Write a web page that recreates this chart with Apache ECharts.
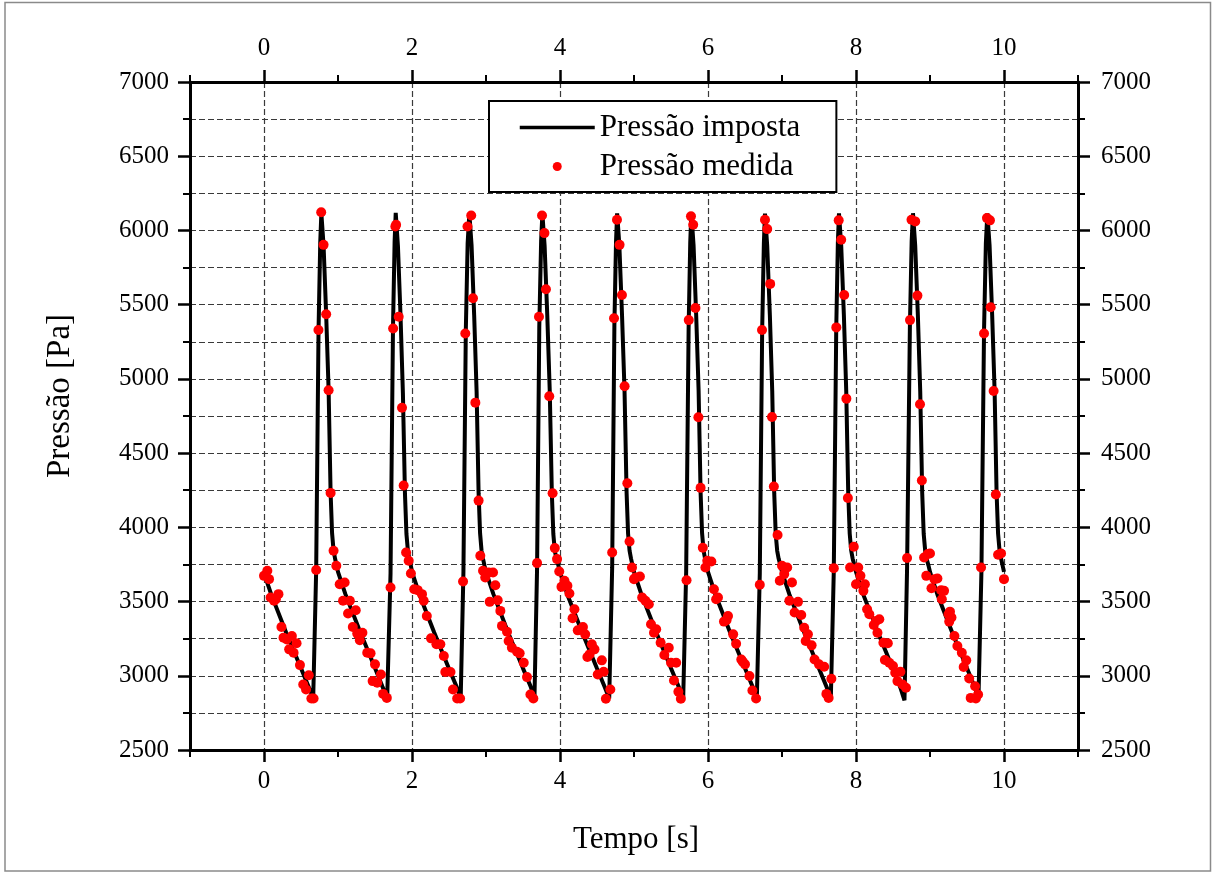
<!DOCTYPE html>
<html>
<head>
<meta charset="utf-8">
<script src="https://cdn.jsdelivr.net/npm/echarts@6/dist/echarts.min.js"></script>
<style>
html,body{margin:0;padding:0;background:#fff;}
#chart{width:1212px;height:872px;}
</style>
</head>
<body>
<div id="chart"></div>
<script>
// ---- Data ----
const xLabelValues = [0, 2, 4, 6, 8, 10];
const xMinorTickValues = [-1, 1, 3, 5, 7, 9, 11];
const seriesNames = ['Pressão imposta', 'Pressão medida'];

// Imposed pressure (black line): time [s]
const imposedTime = [
  0,0.1,0.3,0.5,0.6,0.665,0.705,0.737,0.76,0.775,0.805,0.84,0.873,0.9,0.92,0.94,0.96,0.98,
  1.0,1.1,1.3,1.5,1.6,1.665,1.71,1.743,1.765,1.78,1.81,1.845,1.877,1.905,1.925,1.945,1.965,1.985,
  2.0,2.1,2.3,2.5,2.6,2.658,2.695,2.727,2.752,2.775,2.805,2.84,2.873,2.9,2.92,2.94,2.96,2.98,
  3.0,3.1,3.3,3.5,3.6,3.655,3.69,3.72,3.745,3.762,3.792,3.828,3.862,3.89,3.91,3.93,3.955,3.98,
  4.0,4.1,4.3,4.5,4.6,4.665,4.705,4.735,4.757,4.772,4.802,4.838,4.872,4.9,4.92,4.94,4.96,4.98,
  5.0,5.1,5.3,5.5,5.6,5.665,5.705,5.738,5.76,5.775,5.805,5.84,5.873,5.9,5.92,5.94,5.96,5.98,
  6.0,6.1,6.3,6.5,6.6,6.66,6.7,6.732,6.755,6.77,6.8,6.836,6.868,6.895,6.915,6.935,6.955,6.98,
  7.0,7.1,7.3,7.5,7.6,7.66,7.7,7.733,7.755,7.77,7.8,7.836,7.868,7.895,7.915,7.935,7.955,7.98,
  8.0,8.1,8.3,8.5,8.6,8.655,8.69,8.728,8.752,8.77,8.8,8.836,8.868,8.895,8.915,8.935,8.955,8.98,
  9.0,9.1,9.3,9.5,9.6,9.655,9.695,9.73,9.755,9.775,9.805,9.84,9.873,9.9,9.92,9.94,9.96,9.98,
  10.0
];
// Imposed pressure (black line): pressure [Pa]
const imposedPressure = [
  3692,3545,3290,3050,2930,2850,3710,5330,5920,6115,5900,5435,4925,4235,3960,3845,3790,3745,
  3700,3550,3295,3052,2928,2850,3690,5340,5925,6118,5895,5425,4905,4225,3955,3840,3785,3740,
  3700,3548,3292,3048,2930,2848,3700,5320,5915,6115,5900,5430,4915,4230,3960,3842,3788,3742,
  3700,3550,3290,3050,2932,2850,3720,5350,5930,6112,5898,5428,4910,4225,3955,3840,3785,3740,
  3698,3546,3291,3049,2929,2848,3730,5360,5925,6115,5902,5432,4920,4232,3958,3843,3789,3744,
  3700,3549,3293,3051,2931,2849,3700,5335,5920,6116,5900,5434,4922,4234,3960,3845,3790,3745,
  3700,3547,3290,3050,2930,2848,3690,5330,5915,6114,5898,5430,4918,4230,3956,3842,3788,3742,
  3698,3548,3292,3049,2928,2850,3710,5340,5920,6115,5900,5432,4920,4232,3958,3844,3789,3743,
  3700,3545,3288,3045,2920,2835,3720,5345,5925,6116,5900,5430,4915,4228,3955,3842,3787,3742,
  3700,3548,3291,3050,2930,2848,3700,5320,5915,6115,5900,5432,4920,4230,3958,3843,3790,3745,
  3700
];

// Measured pressure (red dots): time [s]
const measuredTime = [
  0,0.045,0.068,0.09,0.136,0.16,0.195,0.236,0.264,0.309,0.34,0.377,0.4,0.44,0.486,0.53,0.568,0.605,0.64,0.67,0.705,0.736,0.773,0.805,0.84,0.873,0.9,0.94,0.977,
  1.023,1.068,1.09,1.136,1.16,1.2,1.24,1.26,1.295,1.33,1.395,1.44,1.468,1.5,1.53,1.58,1.61,1.66,1.71,1.745,1.775,1.785,1.82,1.865,1.887,1.92,1.955,1.985,
  2.03,2.077,2.135,2.158,2.2,2.257,2.33,2.383,2.43,2.45,2.52,2.554,2.61,2.65,2.69,2.72,2.75,2.8,2.824,2.856,2.9,2.923,2.96,2.99,
  3.036,3.05,3.095,3.126,3.158,3.194,3.216,3.284,3.306,3.35,3.42,3.455,3.51,3.554,3.6,3.64,3.69,3.716,3.757,3.79,3.81,3.855,3.9,3.93,3.96,3.99,
  4.02,4.06,4.1,4.127,4.17,4.195,4.24,4.31,4.34,4.37,4.4,4.43,4.466,4.51,4.565,4.59,4.62,4.68,4.705,4.73,4.77,4.805,4.837,4.873,4.91,4.94,4.973,
  5.0,5.02,5.08,5.11,5.154,5.2,5.23,5.27,5.3,5.36,5.41,5.47,5.5,5.54,5.57,5.6,5.633,5.71,5.74,5.77,5.8,5.83,5.87,5.9,5.93,5.965,5.99,
  6.045,6.08,6.11,6.135,6.216,6.25,6.27,6.34,6.38,6.45,6.47,6.5,6.56,6.6,6.65,6.7,6.73,6.77,6.8,6.84,6.865,6.89,6.94,6.97,
  7.0,7.03,7.07,7.1,7.135,7.17,7.216,7.26,7.3,7.32,7.35,7.4,7.44,7.5,7.57,7.6,7.63,7.667,7.7,7.734,7.766,7.8,7.84,7.87,7.89,7.92,7.97,
  8.0,8.03,8.06,8.1,8.12,8.15,8.18,8.24,8.27,8.29,8.315,8.37,8.39,8.43,8.45,8.5,8.53,8.56,8.6,8.63,8.675,8.69,8.73,8.75,8.8,8.83,8.865,8.89,8.92,8.95,8.97,
  9.0,9.02,9.06,9.1,9.15,9.16,9.19,9.25,9.26,9.27,9.29,9.33,9.37,9.43,9.455,9.49,9.53,9.55,9.61,9.62,9.65,9.69,9.73,9.77,9.81,9.82,9.86,9.89,9.92,9.96,10.0
];
// Measured pressure (red dots): pressure [Pa]
const measuredPressure = [
  3673,3707,3651,3527,3505,3516,3550,3329,3257,3245,3178,3268,3155,3219,3072,2941,2908,3004,2847,2847,3712,5329,6122,5903,5435,4923,4232,3842,3741,
  3617,3505,3628,3419,3505,3329,3441,3284,3239,3290,3155,3151,2964,3077,2953,3009,2878,2851,3595,5340,6027,6038,5419,4806,4282,3831,3775,3689,
  3583,3577,3550,3505,3403,3252,3212,3212,3133,3025,3025,2908,2847,2847,3635,5306,6027,6101,5543,4840,4180,3809,3707,3662,
  3696,3498,3696,3610,3509,3437,3336,3297,3234,3189,3162,3151,3088,2991,2874,2847,3759,5419,6101,5982,5604,4883,4230,3860,3786,3703,
  3599,3640,3606,3554,3387,3448,3306,3329,3279,3126,3144,3212,3178,3009,3104,3027,2845,2908,3831,5408,6072,5903,5565,4950,4297,3905,3730,
  3651,3662,3669,3527,3505,3482,3347,3290,3313,3223,3140,3189,3088,2968,3088,2892,2845,3644,5396,6095,6038,5478,4741,4266,3862,3730,3775,
  3770,3583,3516,3527,3365,3374,3403,3279,3216,3110,3095,3077,2998,2901,2847,3613,5329,6072,6009,5640,4743,4275,3948,3640,
  3741,3685,3730,3505,3628,3426,3498,3410,3324,3234,3279,3205,3110,3077,3061,2878,2851,2980,3725,5347,6068,5937,5565,4867,4198,3730,3869,
  3617,3730,3673,3572,3617,3448,3414,3342,3369,3290,3381,3223,3106,3219,3088,3066,3020,2964,3027,2941,2919,3793,5396,6072,6061,5561,4829,4315,3797,3673,3820,
  3824,3590,3651,3655,3577,3516,3572,3414,3365,3432,3392,3268,3200,3155,3059,3104,2982,2851,2930,2847,2874,3730,5306,6083,6068,5482,4919,4221,3815,3824,3651
];

// ---- Chart ----
const FONT = '"Liberation Serif", "Times New Roman", serif';
const lineData = imposedTime.map((t, i) => [t, imposedPressure[i]]);
const dotData = measuredTime.map((t, i) => [t, measuredPressure[i]]);

const gridDash = { color: '#3a3a3a', width: 1.2, type: [6, 3] };
const plainNumber = (v) => String(v);

function xMain(position, withGrid) {
  return {
    type: 'value', gridIndex: 0, position: position, offset: 0,
    min: -1, max: 11, interval: 1,
    axisLine: { show: true, onZero: false, lineStyle: { color: '#000', width: 3 } },
    axisTick: { show: true, customValues: xLabelValues, length: 12, inside: false, lineStyle: { color: '#000', width: 2.5 } },
    axisLabel: { show: true, customValues: xLabelValues, formatter: plainNumber,
      margin: position === 'bottom' ? 19 : 21,
      color: '#000', fontSize: 25, fontFamily: FONT },
    splitLine: { show: withGrid, lineStyle: gridDash },
    minorTick: { show: false }
  };
}
function xMinor(position) {
  return {
    type: 'value', gridIndex: 0, position: position, offset: 0,
    min: -1, max: 11, interval: 1,
    axisLine: { show: false, onZero: false },
    axisTick: { show: true, customValues: xMinorTickValues, length: 7, inside: false, lineStyle: { color: '#000', width: 2 } },
    axisLabel: { show: false },
    splitLine: { show: false }
  };
}
function yAxisDef(position, withGrid) {
  return {
    type: 'value', gridIndex: 0, position: position, offset: 0,
    min: 2500, max: 7000, interval: 500,
    axisLine: { show: true, onZero: false, lineStyle: { color: '#000', width: 3 } },
    axisTick: { show: true, length: 12, inside: false, lineStyle: { color: '#000', width: 2.5 } },
    minorTick: { show: true, splitNumber: 2, length: 7, lineStyle: { color: '#000', width: 2 } },
    axisLabel: { show: true, formatter: plainNumber, margin: position === 'left' ? 21 : 23,
      color: '#000', fontSize: 25, fontFamily: FONT },
    splitLine: { show: withGrid, lineStyle: gridDash },
    minorSplitLine: { show: withGrid, lineStyle: gridDash }
  };
}

const chart = echarts.init(document.getElementById('chart'), null, { renderer: 'canvas' });
chart.setOption({
  animation: false,
  backgroundColor: '#fff',
  grid: { left: 190, right: 134, top: 82, bottom: 122, containLabel: false, outerBoundsMode: 'none' },
  xAxis: [ xMain('bottom', true), xMinor('bottom'), xMain('top', false), xMinor('top') ],
  yAxis: [ yAxisDef('left', true), yAxisDef('right', false) ],
  legend: {
    show: true,
    data: [
      { name: seriesNames[0], itemStyle: { opacity: 0 }, lineStyle: { width: 3.5, color: '#000' } },
      { name: seriesNames[1], icon: 'circle', itemStyle: { color: '#ff0000' } }
    ],
    orient: 'vertical',
    left: 489, top: 101,
    padding: [11, 36, 10, 29],
    itemGap: 8,
    itemWidth: 75, itemHeight: 9,
    backgroundColor: '#fff',
    borderColor: '#000', borderWidth: 2, borderRadius: 0,
    textStyle: { color: '#000', fontSize: 31, fontFamily: FONT },
    selectedMode: false
  },
  graphic: [
    { type: 'rect', silent: true, z: -10,
      shape: { x: 5, y: 2.5, width: 1205.5, height: 868.5 },
      style: { fill: null, stroke: '#8a8a8a', lineWidth: 1.5 } },
    { type: 'text', x: 60, y: 396, rotation: Math.PI / 2, silent: true,
      style: { text: 'Pressão [Pa]', fill: '#000', font: '33px ' + FONT, align: 'center', verticalAlign: 'middle' } },
    { type: 'text', x: 636, y: 840, silent: true,
      style: { text: 'Tempo [s]', fill: '#000', font: '31px ' + FONT, align: 'center', verticalAlign: 'middle' } }
  ],
  series: [
    {
      name: seriesNames[0], type: 'line', xAxisIndex: 0, yAxisIndex: 0,
      data: lineData, symbol: 'none', showSymbol: false, smooth: false,
      lineStyle: { color: '#000', width: 4 }, itemStyle: { color: '#000' }, z: 2
    },
    {
      name: seriesNames[1], type: 'scatter', xAxisIndex: 0, yAxisIndex: 0,
      data: dotData, symbol: 'circle', symbolSize: 10,
      itemStyle: { color: '#ff0000', opacity: 1 }, z: 3
    }
  ]
});
</script>
</body>
</html>
